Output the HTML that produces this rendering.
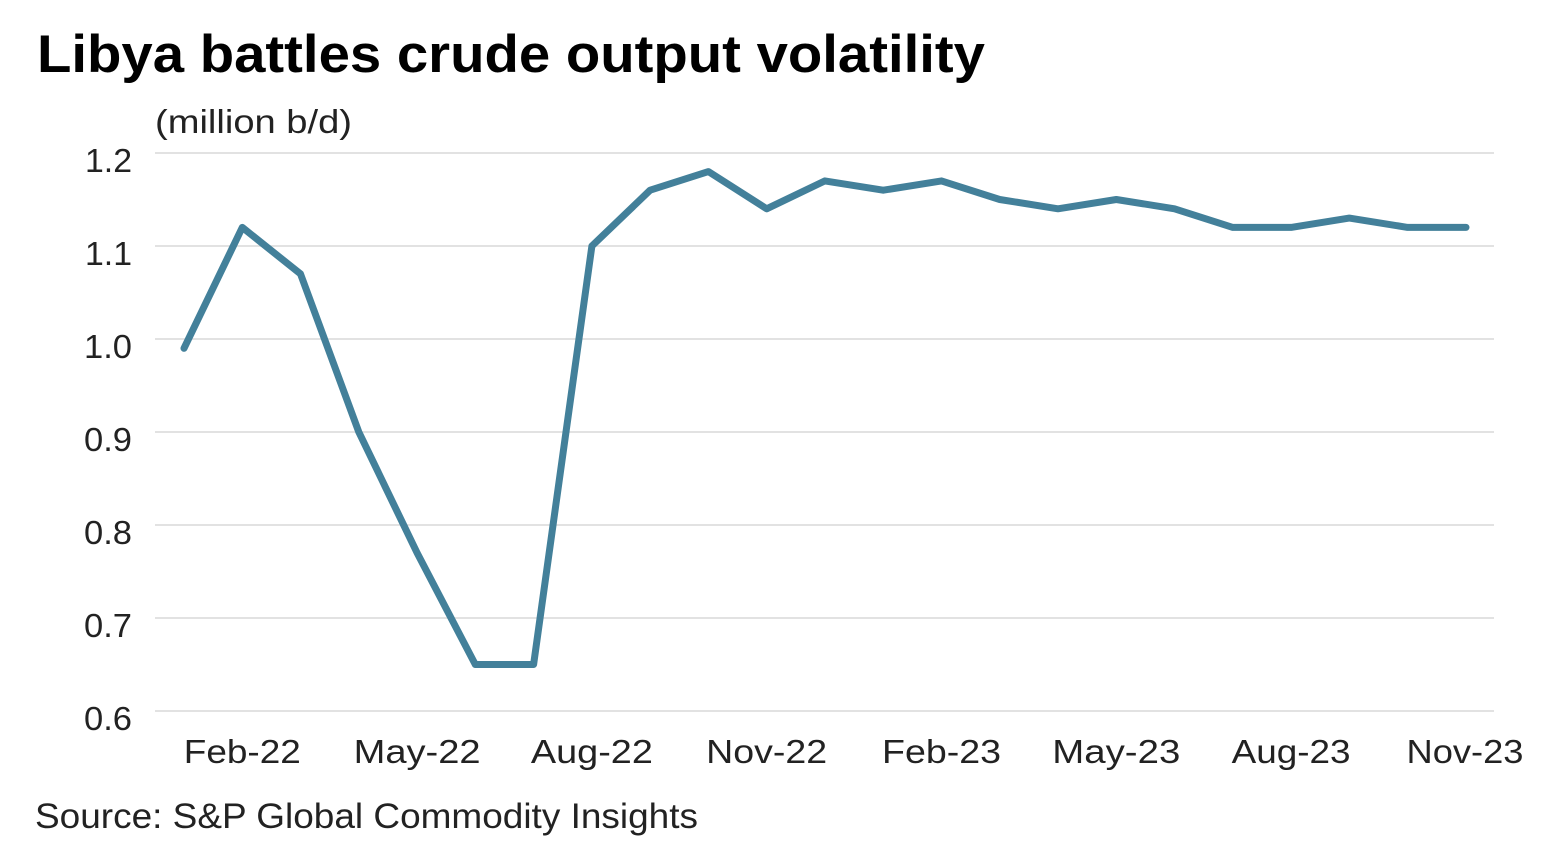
<!DOCTYPE html>
<html>
<head>
<meta charset="utf-8">
<style>
  html, body { margin: 0; padding: 0; background: #ffffff; }
  svg { display: block; }
  text { font-family: "Liberation Sans", sans-serif; }
</style>
</head>
<body>
<svg width="1556" height="860" viewBox="0 0 1556 860" xmlns="http://www.w3.org/2000/svg">
  <rect width="1556" height="860" fill="#ffffff"/>
  <!-- Title -->
  <text x="37" y="72" font-size="53" font-weight="bold" fill="#000" textLength="948" lengthAdjust="spacingAndGlyphs">Libya battles crude output volatility</text>
  <!-- Unit -->
  <text x="155" y="133" font-size="33" fill="#222" textLength="197" lengthAdjust="spacingAndGlyphs">(million b/d)</text>

  <!-- Gridlines -->
  <g stroke="#d9d9d9" stroke-width="1.5">
    <line x1="155" y1="153" x2="1494" y2="153"/>
    <line x1="155" y1="246" x2="1494" y2="246"/>
    <line x1="155" y1="339" x2="1494" y2="339"/>
    <line x1="155" y1="432" x2="1494" y2="432"/>
    <line x1="155" y1="525" x2="1494" y2="525"/>
    <line x1="155" y1="618" x2="1494" y2="618"/>
    <line x1="155" y1="711" x2="1494" y2="711"/>
  </g>

  <!-- Y labels -->
  <g font-size="33" fill="#222" text-anchor="end">
    <text x="132" y="172" textLength="47" lengthAdjust="spacingAndGlyphs">1.2</text>
    <text x="132" y="265" textLength="47" lengthAdjust="spacingAndGlyphs">1.1</text>
    <text x="132" y="358" textLength="48" lengthAdjust="spacingAndGlyphs">1.0</text>
    <text x="132" y="451" textLength="48" lengthAdjust="spacingAndGlyphs">0.9</text>
    <text x="132" y="544" textLength="48" lengthAdjust="spacingAndGlyphs">0.8</text>
    <text x="132" y="637" textLength="48" lengthAdjust="spacingAndGlyphs">0.7</text>
    <text x="132" y="730" textLength="48" lengthAdjust="spacingAndGlyphs">0.6</text>
  </g>

  <!-- X labels -->
  <g font-size="33" fill="#222" text-anchor="middle">
    <text x="242.3" y="763" textLength="117" lengthAdjust="spacingAndGlyphs">Feb-22</text>
    <text x="417.1" y="763" textLength="127" lengthAdjust="spacingAndGlyphs">May-22</text>
    <text x="591.9" y="763" textLength="122" lengthAdjust="spacingAndGlyphs">Aug-22</text>
    <text x="766.7" y="763" textLength="121" lengthAdjust="spacingAndGlyphs">Nov-22</text>
    <text x="941.5" y="763" textLength="119" lengthAdjust="spacingAndGlyphs">Feb-23</text>
    <text x="1116.3" y="763" textLength="128" lengthAdjust="spacingAndGlyphs">May-23</text>
    <text x="1291.1" y="763" textLength="119" lengthAdjust="spacingAndGlyphs">Aug-23</text>
    <text x="1465.0" y="763" textLength="117" lengthAdjust="spacingAndGlyphs">Nov-23</text>
  </g>

  <!-- Series -->
  <polyline fill="none" stroke="#43809a" stroke-width="7" stroke-linejoin="round" stroke-linecap="round"
    points="184,348.3 242.3,227.4 300.5,273.9 358.8,432 417.1,552.9 475.3,664.5 533.6,664.5 591.9,246 650.1,190.2 708.4,171.6 766.7,208.8 824.9,180.9 883.2,190.2 941.5,180.9 999.7,199.5 1058,208.8 1116.3,199.5 1174.5,208.8 1232.8,227.4 1291.1,227.4 1349.3,218.1 1407.6,227.4 1466,227.4"/>

  <!-- Source -->
  <text x="35" y="828" font-size="35" fill="#222" textLength="663" lengthAdjust="spacingAndGlyphs">Source: S&amp;P Global Commodity Insights</text>
</svg>
</body>
</html>
